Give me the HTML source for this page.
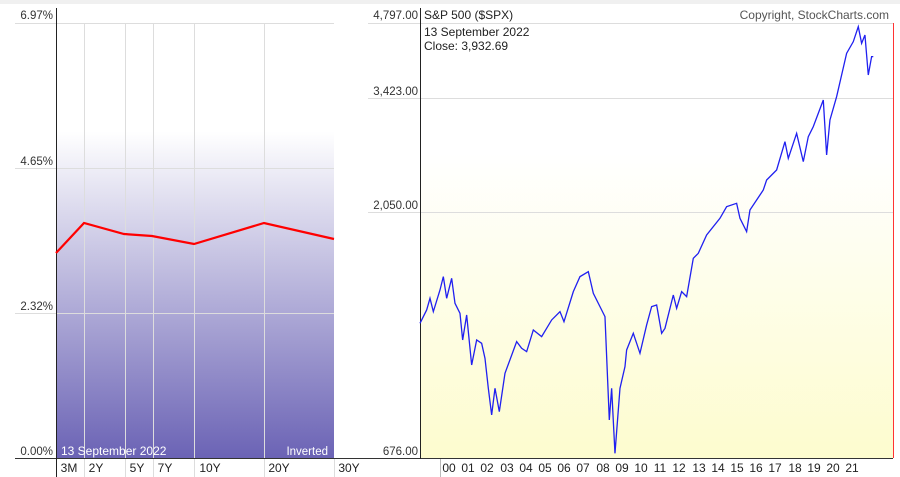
<!DOCTYPE html>
<html><head><style>
body{margin:0;background:#fff;}
svg{display:block;font-family:"Liberation Sans",Arial,sans-serif;}
</style></head><body>
<svg width="900" height="477" viewBox="0 0 900 477">
<defs>
<linearGradient id="lg" x1="0" y1="0" x2="0" y2="1">
<stop offset="0" stop-color="#fff"/><stop offset="0.25" stop-color="#fff"/><stop offset="1" stop-color="#6b63b5"/></linearGradient>
<linearGradient id="yg" x1="0" y1="0" x2="0" y2="1">
<stop offset="0" stop-color="#fff"/><stop offset="0.3" stop-color="#fff"/><stop offset="1" stop-color="#fdfcce"/></linearGradient>
</defs>
<rect x="0" y="0" width="900" height="4" fill="#f0f0f0"/>
<!-- left panel -->
<rect x="56" y="23" width="278" height="435" fill="url(#lg)"/>
<g stroke="#ddd" stroke-width="1">
<line x1="15" y1="23.5" x2="334" y2="23.5"/><line x1="15" y1="168.5" x2="334" y2="168.5"/><line x1="15" y1="313.5" x2="334" y2="313.5"/>
<line x1="84.5" y1="23" x2="84.5" y2="477"/><line x1="125.5" y1="23" x2="125.5" y2="477"/><line x1="153.5" y1="23" x2="153.5" y2="477"/><line x1="194.5" y1="23" x2="194.5" y2="477"/><line x1="264.5" y1="23" x2="264.5" y2="477"/><line x1="334.5" y1="458" x2="334.5" y2="477"/>
</g>
<line x1="15" y1="458.5" x2="364" y2="458.5" stroke="#333"/>
<line x1="56.5" y1="8" x2="56.5" y2="477" stroke="#222"/>
<polyline points="56,253 84,223 124,234 152,236 194,244 264,223 334,239" fill="none" stroke="#f00" stroke-width="2.2"/>
<g font-size="11.5" fill="#333" text-anchor="end">
<text x="53" y="19">6.97%</text><text x="53" y="165">4.65%</text><text x="53" y="310">2.32%</text><text x="53" y="455">0.00%</text>
</g>
<text x="61" y="455" font-size="12" fill="#fff">13  September 2022</text>
<text x="328" y="455" font-size="11.5" fill="#fff" text-anchor="end">Inverted</text>
<g font-size="12" fill="#222" text-anchor="middle">
<text x="69" y="472">3M</text><text x="96" y="472">2Y</text><text x="137" y="472">5Y</text><text x="165" y="472">7Y</text><text x="210" y="472">10Y</text><text x="279" y="472">20Y</text><text x="349" y="472">30Y</text>
</g>
<!-- right panel -->
<rect x="420" y="23" width="473" height="435" fill="url(#yg)"/>
<g stroke="#ddd"><line x1="368" y1="23.5" x2="893" y2="23.5"/><line x1="368" y1="98.5" x2="893" y2="98.5"/><line x1="368" y1="212.5" x2="893" y2="212.5"/></g>
<line x1="360" y1="458.5" x2="893" y2="458.5" stroke="#333"/>
<line x1="420.5" y1="8" x2="420.5" y2="459" stroke="#222"/>
<line x1="893.5" y1="23" x2="893.5" y2="458" stroke="#f33"/>
<g font-size="11.5" fill="#333" text-anchor="end">
<text x="418" y="19">4,797.00</text><text x="418" y="95">3,423.00</text><text x="418" y="209">2,050.00</text><text x="418" y="455">676.00</text>
</g>
<text x="424" y="19" font-size="12" fill="#222">S&amp;P 500 ($SPX)</text>
<text x="424" y="36" font-size="12" fill="#222">13  September 2022</text>
<text x="424" y="50" font-size="12" fill="#222">Close: 3,932.69</text>
<text x="889" y="19" font-size="12" fill="#555" text-anchor="end">Copyright, StockCharts.com</text>
<g transform="translate(360,0) scale(0.3333)">
<polyline vector-effect="non-scaling-stroke" fill="none" stroke="#2020f0" stroke-width="1.3" points="180,970 200,930 210,895 220,935 240,870 250,830 260,895 275,835 285,910 300,940 308,1020 320,945 335,1095 350,1020 365,1030 375,1075 385,1165 395,1245 405,1165 418,1235 435,1120 470,1025 485,1045 500,1055 520,990 545,1010 575,960 600,935 612,965 640,875 660,830 685,815 700,880 720,920 735,950 748,1260 755,1165 765,1360 780,1165 795,1100 800,1050 820,1000 840,1060 860,975 875,920 890,915 905,1000 915,985 940,885 950,925 965,875 980,890 1000,775 1015,760 1040,705 1080,655 1100,620 1130,610 1140,655 1160,695 1170,630 1190,600 1210,570 1220,540 1250,510 1275,425 1285,475 1310,400 1330,485 1345,410 1360,380 1390,300 1400,465 1410,360 1430,290 1445,225 1460,160 1480,125 1495,80 1505,130 1515,105 1525,225 1535,170 1540,170"/>
</g>
<g stroke="#bbb">
<line x1="440.5" y1="459" x2="440.5" y2="477"/>
</g>
<g font-size="12" fill="#222" text-anchor="middle">
<text x="449" y="472">00</text><text x="468" y="472">01</text><text x="487" y="472">02</text><text x="507" y="472">03</text><text x="526" y="472">04</text><text x="545" y="472">05</text><text x="564" y="472">06</text><text x="583" y="472">07</text><text x="603" y="472">08</text><text x="622" y="472">09</text><text x="641" y="472">10</text><text x="660" y="472">11</text><text x="679" y="472">12</text><text x="699" y="472">13</text><text x="718" y="472">14</text><text x="737" y="472">15</text><text x="756" y="472">16</text><text x="775" y="472">17</text><text x="795" y="472">18</text><text x="814" y="472">19</text><text x="833" y="472">20</text><text x="852" y="472">21</text>
</g>
</svg>
</body></html>
